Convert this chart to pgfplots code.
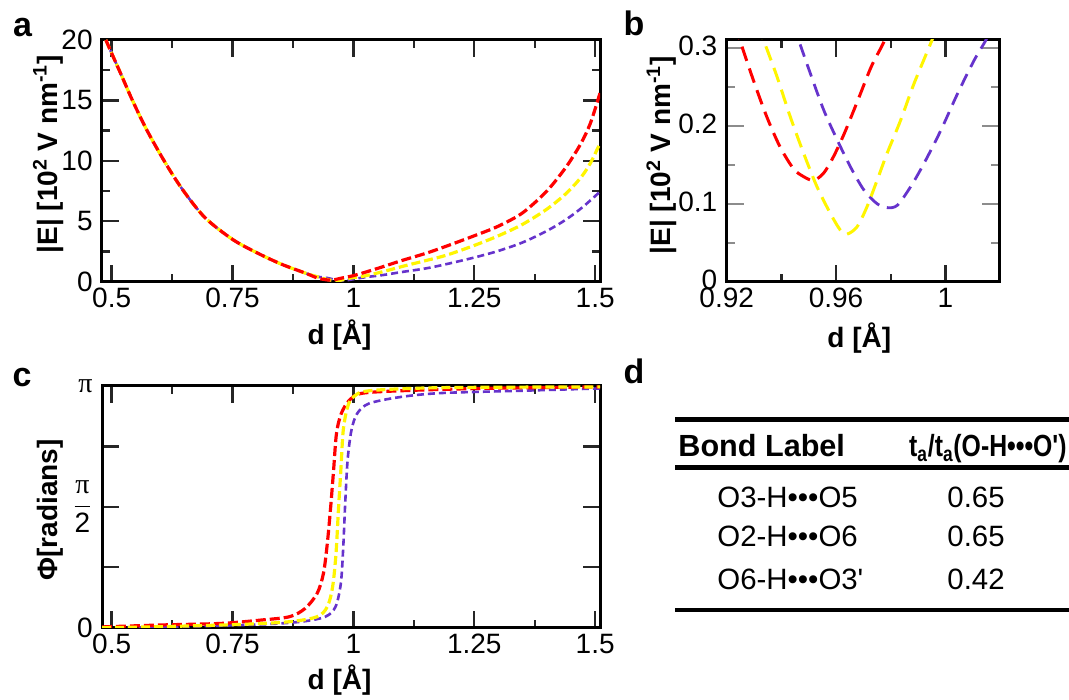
\documentclass[border=0pt]{standalone}
\usepackage{pgfplots}
\pgfplotsset{compat=1.18}
\usepackage{graphicx}
\usepackage{fontspec}
\setmainfont{Liberation Sans}
\setsansfont{Liberation Sans}
\newfontfamily\serifpi{Liberation Serif}

\definecolor{myred}{RGB}{255,0,0}
\definecolor{myyellow}{RGB}{255,245,0}
\definecolor{mypurple}{RGB}{102,51,204}

\newcommand{\pisym}{{\serifpi π}}

\pgfplotsset{
  panel/.style={
    scale only axis,
    axis line style={line width=1.5pt},
    tick align=inside,
    major tick length=8.5pt,
    minor tick length=4pt,
    ticklabel style={font=\fontsize{14}{14}\selectfont},
    xticklabel style={inner sep=0pt, yshift=-3pt},
    yticklabel style={inner sep=0pt, xshift=-4.5pt},
    label style={font=\bfseries\fontsize{14}{16}\selectfont},
    /pgf/number format/assume math mode=true,
    every axis plot/.append style={line join=round, mark=none, smooth, tension=0.5},
  },
  redc/.style={color=myred, line width=1.6pt, dash pattern=on 5pt off 2pt},
  yelc/.style={color=myyellow, line width=1.6pt, dash pattern=on 4.5pt off 2pt},
  purc/.style={color=mypurple, line width=1.3pt, dash pattern=on 3.5pt off 2pt},
  redb/.style={color=myred, line width=1.5pt, dash pattern=on 7.5pt off 4pt},
  yelb/.style={color=myyellow, line width=1.5pt, dash pattern=on 7.5pt off 4pt},
  purb/.style={color=mypurple, line width=1.4pt, dash pattern=on 6.5pt off 4pt},
}

\begin{document}
\begin{tikzpicture}
\path[use as bounding box] (0,0) rectangle (534.5pt,350pt);

% ---- panel a ----
\begin{axis}[panel,
  at={(51pt,209.15pt)}, anchor=south west,
  width=249pt, height=120.85pt,
  xmin=0.48, xmax=1.51, ymin=0, ymax=20,
  xtick={0.5,0.75,1,1.25,1.5},
  minor xtick={0.625,0.875,1.125,1.375},
  ytick={0,5,10,15,20},
  minor ytick={2.5,7.5,12.5,17.5},
  x tick style={black!85, line width=1.2pt},
  y tick style={black!85, line width=1.2pt},
  xlabel={d [Å]},
  ylabel={|E| [10\textsuperscript{2} V nm\textsuperscript{-1}]},
  xlabel style={at={(axis description cs:0.477,-0.22)}, anchor=center},
  ylabel style={at={(axis description cs:-0.108,0.528)}, anchor=center},
]
\addplot[purc] coordinates {
 (0.488,20.0) (0.50,18.9) (0.52,17.1) (0.543,15.0) (0.572,12.6) (0.61,9.9)
 (0.647,7.6) (0.693,5.3) (0.75,3.5) (0.80,2.4) (0.851,1.45) (0.90,0.72)
 (0.925,0.42) (0.946,0.31) (0.9555,0.22) (0.9653,0.147) (0.975,0.10) (0.978,0.095)
 (0.9873,0.122) (0.9983,0.194) (1.0148,0.31) (1.03,0.40) (1.061,0.55) (1.10,0.80)
 (1.15,1.10) (1.193,1.46) (1.25,2.0) (1.30,2.55) (1.35,3.25) (1.40,4.2) (1.44,5.15)
 (1.475,6.2) (1.51,7.45)};
\addplot[yelc] coordinates {
 (0.488,20.0) (0.50,18.9) (0.52,17.1) (0.543,15.0) (0.572,12.6) (0.61,9.9)
 (0.647,7.6) (0.693,5.3) (0.75,3.5) (0.80,2.4) (0.851,1.45) (0.90,0.72)
 (0.9335,0.31) (0.948,0.165) (0.958,0.088) (0.964,0.061) (0.9713,0.096)
 (0.975,0.13) (0.995,0.31) (1.02,0.45) (1.061,0.83) (1.10,1.25) (1.15,1.75)
 (1.193,2.2) (1.25,3.0) (1.30,3.8) (1.35,4.75) (1.40,6.0) (1.44,7.3)
 (1.47,8.6) (1.49,9.8) (1.51,11.45)};
\addplot[redc] coordinates {
 (0.488,20.0) (0.50,18.9) (0.52,17.1) (0.543,15.0) (0.572,12.6) (0.61,9.9)
 (0.647,7.6) (0.693,5.3) (0.75,3.5) (0.80,2.4) (0.851,1.45) (0.90,0.72)
 (0.925,0.31) (0.94,0.18) (0.951,0.13) (0.96,0.16) (0.977,0.31) (1.0,0.5)
 (1.03,0.85) (1.061,1.24) (1.10,1.75) (1.15,2.35) (1.193,2.95) (1.25,3.8)
 (1.30,4.6) (1.35,5.7) (1.40,7.5) (1.44,9.5) (1.47,11.4) (1.49,13.1) (1.51,15.6)};
\end{axis}

% ---- panel b ----
\begin{axis}[panel,
  at={(363.35pt,209.15pt)}, anchor=south west,
  width=136.15pt, height=120.85pt,
  xmin=0.92, xmax=1.0196, ymin=0, ymax=0.31,
  xtick={0.92,0.96,1},
  minor xtick={0.94,0.98},
  ytick={0,0.1,0.2,0.3},
  minor ytick={0.05,0.15,0.25},
  x tick style={black!85, line width=1.2pt},
  y tick style={black!45, line width=1.2pt},
  yticklabel style={yshift=1pt},
  xlabel={d [Å]},
  ylabel={|E| [10\textsuperscript{2} V nm\textsuperscript{-1}]},
  xlabel style={at={(axis description cs:0.487,-0.233)}, anchor=center},
  ylabel style={at={(axis description cs:-0.239,0.524)}, anchor=center},
]
\addplot[purb] coordinates {
 (0.9445,0.33) (0.9463,0.31) (0.9506,0.267) (0.9555,0.22) (0.9604,0.182)
 (0.9653,0.147) (0.9702,0.1175) (0.975,0.10) (0.9787,0.095) (0.9824,0.098)
 (0.9873,0.122) (0.9922,0.152) (0.9983,0.194) (1.0044,0.241) (1.0105,0.284)
 (1.0148,0.31) (1.017,0.33)};
\addplot[yelb] coordinates {
 (0.9318,0.33) (0.9335,0.31) (0.9384,0.263) (0.9432,0.212) (0.9481,0.165)
 (0.953,0.122) (0.9579,0.0876) (0.9616,0.066) (0.964,0.061) (0.9677,0.0705)
 (0.9713,0.096) (0.975,0.13) (0.9787,0.165) (0.9836,0.207) (0.9885,0.254)
 (0.9951,0.31) (0.997,0.33)};
\addplot[redb] coordinates {
 (0.9235,0.33) (0.9249,0.309) (0.9297,0.259) (0.9346,0.212) (0.9395,0.173)
 (0.9444,0.145) (0.948,0.135) (0.9517,0.130) (0.9554,0.139) (0.959,0.160)
 (0.963,0.19) (0.968,0.233) (0.9729,0.276) (0.9778,0.31) (0.979,0.33)};
\end{axis}

% ---- panel c ----
\begin{axis}[panel,
  at={(51pt,36.15pt)}, anchor=south west,
  width=249pt, height=120.85pt,
  xmin=0.48, xmax=1.51, ymin=0, ymax=3.14159,
  xtick={0.5,0.75,1,1.25,1.5},
  minor xtick={0.625,0.875,1.125,1.375},
  ytick={0,0.7854,1.5708,2.3562,3.14159},
  yticklabels={0,,{$\displaystyle\frac{\mbox{\pisym}}{\mbox{2}}$},,\pisym},
  x tick style={black!85, line width=1.2pt},
  y tick style={black!85, line width=1.2pt},
  xlabel={d [Å]},
  ylabel={Φ[radians]},
  xlabel style={at={(axis description cs:0.477,-0.216)}, anchor=center},
  ylabel style={at={(axis description cs:-0.104,0.487)}, anchor=center},
]
\addplot[purc] coordinates {
 (0.51,0) (0.644,0.013) (0.81,0.043) (0.892,0.078) (0.942,0.143) (0.963,0.273)
 (0.974,0.576) (0.979,1.053) (0.983,1.616) (0.988,2.18) (0.996,2.57)
 (1.008,2.786) (1.033,2.916) (1.099,3.0) (1.182,3.05) (1.348,3.08) (1.51,3.11)};
\addplot[redc] coordinates {
 (0.48,0.01) (0.6,0.035) (0.727,0.056) (0.81,0.10) (0.868,0.143) (0.90,0.25)
 (0.925,0.446) (0.938,0.706) (0.946,1.096) (0.953,1.573) (0.959,2.05)
 (0.965,2.526) (0.975,2.786) (0.992,2.96) (1.017,3.046) (1.099,3.08)
 (1.265,3.11) (1.51,3.13)};
\addplot[yelc] coordinates {
 (0.48,0) (0.6,0.013) (0.768,0.043) (0.868,0.078) (0.925,0.143) (0.946,0.273)
 (0.957,0.533) (0.964,0.966) (0.969,1.53) (0.974,2.05) (0.979,2.57)
 (0.988,2.87) (1.0,3.0) (1.033,3.08) (1.182,3.12) (1.51,3.13)};
\end{axis}

% ---- panel labels ----
\tikzset{plab/.style={font=\bfseries\fontsize{17}{17}\selectfont, inner sep=0pt}}
\node[plab] at (11.25pt,336.25pt) {a};
\node[plab] at (317pt,338.25pt) {b};
\node[plab] at (11pt,161.25pt) {c};
\node[plab] at (317pt,164.25pt) {d};

% ---- panel d: table ----
\draw[line width=2.5pt] (337.5pt,140pt) -- (534.5pt,140pt);
\draw[line width=2.5pt] (337.5pt,116.2pt) -- (534.5pt,116.2pt);
\draw[line width=2pt] (337.5pt,45.2pt) -- (534.5pt,45.2pt);
\tikzset{thd/.style={font=\bfseries\fontsize{15.3}{18}\selectfont, inner sep=0pt},
         tcell/.style={font=\fontsize{14.7}{18}\selectfont, inner sep=0pt, anchor=base west}}
\node[thd, anchor=base west] at (339pt,121.5pt) {Bond Label};
\node[thd, anchor=base east] at (533.5pt,121.5pt) {\scalebox{0.81}[1]{t\textsubscript{a}/t\textsubscript{a}(O-H•••O\textquotesingle)}};
\node[tcell] at (358.5pt,96pt) {O3-H•••O5};
\node[tcell] at (358.5pt,76.5pt) {O2-H•••O6};
\node[tcell] at (358.5pt,55pt) {O6-H•••O3\textquotesingle};
\node[tcell] at (473.5pt,96pt) {0.65};
\node[tcell] at (473.5pt,76.5pt) {0.65};
\node[tcell] at (473.5pt,55pt) {0.42};
\end{tikzpicture}
\end{document}
